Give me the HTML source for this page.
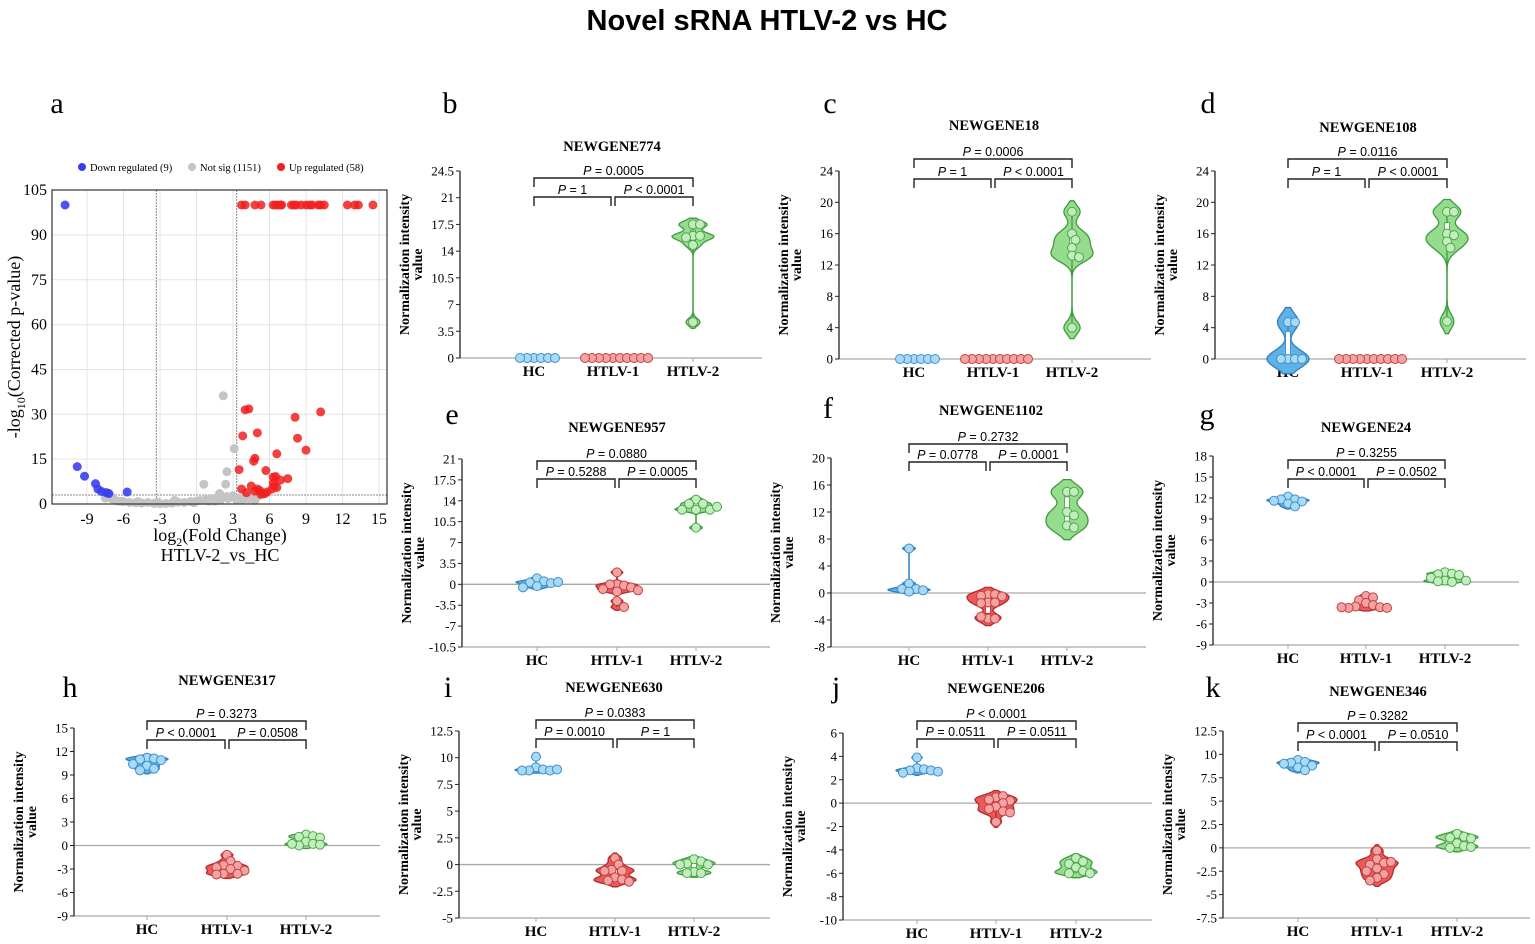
<!DOCTYPE html>
<html><head><meta charset="utf-8"><style>
html,body{margin:0;padding:0;background:#fff}
svg{display:block}
</style></head><body>
<svg id="fig" xmlns="http://www.w3.org/2000/svg" width="1535" height="944" viewBox="0 0 1535 944">
<text x="767" y="30" text-anchor="middle" font-family="Liberation Sans, sans-serif" font-weight="bold" font-size="29">Novel sRNA HTLV-2 vs HC</text>
<g id="root"></g>
</svg>
<script>
// ---------- Volcano data (panel a) ----------
const upX=[3.7,4.0,4.8,5.3,6.3,6.5,6.7,6.9,7.0,7.8,8.0,8.2,8.6,9.0,9.3,9.5,10.0,10.2,10.5,12.4,13.0,13.3,14.5,4.0,4.3,10.2,8.1,3.8,5.0,8.3,9.0,4.8,4.7,6.6,3.5,5.7,6.3,6.5,6.9,7.5,3.7,4.5,4.1,5.0,5.2,5.5,5.8,6.2,6.4,6.6,5.3,5.6,4.8,6.3];
const upY=[100,100,100,100,100,100,100,100,100,100,100,100,100,100,100,100,100,100,100,100,100,100,100,31.5,31.8,30.8,29,22.8,23.8,22,18,15.3,14.3,16.8,11.5,11.2,9,9.2,8,8.5,5,6,3.8,5,4.5,3.5,4,5,6,5.5,3.2,3.5,4.3,7];
const downX=[-10.8,-9.8,-9.2,-8.3,-8.1,-7.8,-7.4,-7.2,-5.7];
const downY=[100,12.5,9.3,6.8,5,4.2,3.8,3.5,4];
const nsX=[2.2,3.1,2.5,0.6,2.4,1.9,2.9,-7.5,-7.2,-7,-6.8,-6.5,-6.2,-6,-5.5,-5,-4.5,-4,-3.5,-3,-2.5,-2,-1.5,-1,-0.5,0,0.3,0.8,1.2,1.6,2,2.5,3,3.5,4,4.5,5,-6.9,1,1.5,2,2.6,3.3,-1.8,-0.2,3.8,4.3,4.8,-4.8,-3.2];
const nsY=[36.2,18.5,10.8,6.6,6.6,3.5,2.5,2,2.6,1.8,1.5,1,0.9,0.8,0.5,0.4,0.3,0.5,0.2,0.1,0.2,0.3,0.6,0.5,0.8,1,1.2,1.5,1.8,2,2.2,2.5,2.8,2,2.2,2.4,2.5,2.2,1,1,1.5,1.8,1.4,1.2,0.4,1.5,1.7,1.2,0.8,0.6];
const vxTicks=[-9,-6,-3,0,3,6,9,12,15];
const vyTicks=[0,15,30,45,60,75,90,105];

// ---------- Violin panel data ----------
const catNames=["HC","HTLV-1","HTLV-2"];
const bHC=[0,0,0,0,0,0], bH1=[0,0,0,0,0,0,0,0,0,0], bH2=[17.5,17.5,16,16,15.8,14.8,4.7];
const cHC=[0,0,0,0,0,0], cH1=[0,0,0,0,0,0,0,0,0,0], cH2=[18.8,16,15.2,14.2,13.2,13,4];
const dHC=[4.7,4.7,0,0,0,0], dH1=[0,0,0,0,0,0,0,0,0,0], dH2=[18.8,18.8,16,15.8,15,14.2,4.8];
const eHC=[1,0.5,0.3,0.2,-0.3,-0.5,0.4], eH1=[2,0,-0.2,0,-0.5,-0.8,-1,-1.2,-2.8,-3.8], eH2=[14.2,13.5,13.5,12.5,12.5,12.5,13,9.5];
const fHC=[6.6,1.4,0.6,0.6,0.2,0.4], fH1=[-0.2,-0.2,-0.4,-0.5,-1.4,-1.4,-1.5,-3.8,-3.8,-3.5], fH2=[15,15,12,11.5,10,9.7];
const gHC=[12.2,11.8,11.8,11.5,11.2,10.8,11.6], gH1=[-2,-2.2,-2.6,-3,-3.3,-3.5,-3.6,-3.7,-3.7,-3.6], gH2=[1.4,1.2,1.1,1,0.6,0.2,0,0.1,0.2];
const hHC=[11.2,11.1,11,10.9,10.4,10.2,9.8,9.6], hH1=[-1.2,-2,-2.5,-2.6,-2.8,-3,-3.2,-3.6,-3.6,-3.7], hH2=[1.4,1.2,1.1,1.0,0.5,0.2,0,0.1,0.2];
const iHC=[10.1,9.1,8.9,8.8,8.8,8.8,8.9], iH1=[0.6,0,-0.5,-0.6,-0.6,-1.2,-1.4,-1.5,-1.6], iH2=[0.5,0.3,0.1,0,-0.7,-0.8,-0.8,0];
const jHC=[3.9,3,2.9,2.8,2.8,2.6,2.7], jH1=[0.5,0.6,0.3,0.2,0,-0.3,-0.5,-0.7,-0.8,-1.6], jH2=[-4.7,-5,-5.2,-5.5,-5.8,-6,-6];
const kHC=[9.4,9.2,9.1,8.8,8.6,8.3,9], kH1=[-0.3,-1.2,-1.6,-1.8,-2.2,-2.8,-3.2,-3.5,-1.5,-2.5], kH2=[1.5,1.2,1.1,1,0.5,0.2,0,0.1];
const bTicks=[0,3.5,7,10.5,14,17.5,21,24.5];
const cTicks=[0,4,8,12,16,20,24];
const dTicks=[0,4,8,12,16,20,24];
const eTicks=[-10.5,-7,-3.5,0,3.5,7,10.5,14,17.5,21];
const fTicks=[-8,-4,0,4,8,12,16,20];
const gTicks=[-9,-6,-3,0,3,6,9,12,15,18];
const hTicks=[-9,-6,-3,0,3,6,9,12,15];
const iTicks=[-5,-2.5,0,2.5,5,7.5,10,12.5];
const jTicks=[-10,-8,-6,-4,-2,0,2,4,6];
const kTicks=[-7.5,-5,-2.5,0,2.5,5,7.5,10,12.5];
const genes=["NEWGENE774","NEWGENE18","NEWGENE108","NEWGENE957","NEWGENE1102","NEWGENE24","NEWGENE317","NEWGENE630","NEWGENE206","NEWGENE346"];
const pTop=["0.0005","0.0006","0.0116","0.0880","0.2732","0.3255","0.3273","0.0383","< 0.0001","0.3282"];
const pLeft=["1","1","1","0.5288","0.0778","< 0.0001","< 0.0001","0.0010","0.0511","< 0.0001"];
const pRight=["< 0.0001","< 0.0001","< 0.0001","0.0005","0.0001","0.0502","0.0508","1","0.0511","0.0510"];

const NS="http://www.w3.org/2000/svg";
const root=document.getElementById('root');
function mk(tag,attrs,parent,text){const e=document.createElementNS(NS,tag);for(const k in attrs)e.setAttribute(k,attrs[k]);if(text!==undefined)e.textContent=text;(parent||root).appendChild(e);return e;}
const SERIF="Liberation Serif, serif", SANS="Liberation Sans, sans-serif";

// ---------- Panel a: volcano ----------
(function(){
  const g=mk('g',{});
  
  
  const L=52,R=387,T=190,B=504;
  const X=v=>196.5+v*12.17, Y=v=>B-v*2.99;
  let t=mk('text',{x:57,y:113,'font-family':SERIF,'font-size':30,'text-anchor':'middle'},g,'a');
  
  vxTicks.forEach(v=>{mk('line',{x1:X(v),x2:X(v),y1:T,y2:B,stroke:'#e4e4e4','stroke-width':1},g);});
  vyTicks.forEach(v=>{mk('line',{x1:L,x2:R,y1:Y(v),y2:Y(v),stroke:'#e4e4e4','stroke-width':1},g);});
  mk('line',{x1:X(-3.3),x2:X(-3.3),y1:T,y2:B,stroke:'#888','stroke-width':1,'stroke-dasharray':'2,1'},g);
  mk('line',{x1:X(3.3),x2:X(3.3),y1:T,y2:B,stroke:'#888','stroke-width':1,'stroke-dasharray':'2,1'},g);
  mk('line',{x1:L,x2:R,y1:Y(3),y2:Y(3),stroke:'#888','stroke-width':1,'stroke-dasharray':'2,1'},g);
  nsX.forEach((v,i)=>{const c=mk('circle',{cx:X(v),cy:Y(nsY[i]),r:4.5,fill:'#c4c4c4'},g);});
  downX.forEach((v,i)=>{const c=mk('circle',{cx:X(v),cy:Y(downY[i]),r:4.5,fill:'#3a3ff0','fill-opacity':0.9},g);});
  upX.forEach((v,i)=>{const c=mk('circle',{cx:X(v),cy:Y(upY[i]),r:4.5,fill:'#f02020','fill-opacity':0.85},g);});
  mk('rect',{x:L,y:T,width:R-L,height:B-T,fill:'none',stroke:'#333','stroke-width':1.2},g);
  vxTicks.forEach(v=>{const e=mk('text',{x:X(v),y:B+20,'font-family':SERIF,'font-size':16,'text-anchor':'middle'},g,String(v));});
  vyTicks.forEach(v=>{const e=mk('text',{x:L-5,y:Y(v)+5,'font-family':SERIF,'font-size':16,'text-anchor':'end'},g,String(v));});
  const yt=mk('text',{transform:'translate(20,347) rotate(-90)','font-family':SERIF,'font-size':18,'text-anchor':'middle'},g);
  
  yt.innerHTML='-log<tspan font-size="12" dy="5">10</tspan><tspan dy="-5">(Corrected p-value)</tspan>';
  const xt=mk('text',{x:220,y:541,'font-family':SERIF,'font-size':18,'text-anchor':'middle'},g);
  
  xt.innerHTML='log<tspan font-size="12" dy="5">2</tspan><tspan dy="-5">(Fold Change)</tspan>';
  const xs=mk('text',{x:220,y:561,'font-family':SERIF,'font-size':18,'text-anchor':'middle'},g,'HTLV-2_vs_HC');
  
  const leg=[[82,'#3a3ff0','Down regulated (9)'],[192,'#c4c4c4','Not sig (1151)'],[281,'#f02020','Up regulated (58)']];
  leg.forEach(l=>{
    const lg=mk('g',{},g);
    mk('circle',{cx:l[0],cy:167,r:4,fill:l[1]},lg);
    mk('text',{x:l[0]+8,y:171,'font-family':SERIF,'font-size':10.5},lg,l[2]);
  });
})();

// ---------- Violin panels ----------
const panelData=[[bHC,bH1,bH2],[cHC,cH1,cH2],[dHC,dH1,dH2],[eHC,eH1,eH2],[fHC,fH1,fH2],[gHC,gH1,gH2],[hHC,hH1,hH2],[iHC,iH1,iH2],[jHC,jH1,jH2],[kHC,kH1,kH2]];
const panelTicks=[bTicks,cTicks,dTicks,eTicks,fTicks,gTicks,hTicks,iTicks,jTicks,kTicks];
const layout=[
 {L:'b',ax:460,yt:171,yb:358,cx:[534,613,693],ex:762,tx:612,ty:151,b1:178,b2:197,lx:450,ly:113},
 {L:'c',ax:839,yt:171,yb:359,cx:[914,993,1072],ex:1151,tx:994,ty:130,b1:159,b2:179,lx:830,ly:113},
 {L:'d',ax:1215,yt:171,yb:359,cx:[1288,1367,1447],ex:1526,tx:1368,ty:132,b1:159,b2:179,lx:1208,ly:113},
 {L:'e',ax:462,yt:459,yb:647,cx:[537,617,696],ex:770,tx:617,ty:432,b1:461,b2:479,lx:452,ly:424},
 {L:'f',ax:831,yt:458,yb:647,cx:[909,988,1067],ex:1146,tx:991,ty:415,b1:444,b2:462,lx:828,ly:418},
 {L:'g',ax:1213,yt:456,yb:645,cx:[1288,1366,1445],ex:1519,tx:1366,ty:432,b1:460,b2:479,lx:1207,ly:424},
 {L:'h',ax:74,yt:728,yb:916,cx:[147,227,306],ex:380,tx:227,ty:685,b1:721,b2:740,lx:70,ly:697},
 {L:'i',ax:459,yt:731,yb:918,cx:[536,615,694],ex:770,tx:614,ty:692,b1:720,b2:739,lx:448,ly:697},
 {L:'j',ax:843,yt:733,yb:920,cx:[917,996,1076],ex:1152,tx:996,ty:693,b1:721,b2:739,lx:836,ly:697},
 {L:'k',ax:1223,yt:731,yb:918,cx:[1298,1377,1457],ex:1530,tx:1378,ty:696,b1:723,b2:742,lx:1213,ly:697}
];
const fills=['#5fb2e6','#ea5a5a','#96dc8f'], strokes=['#2f7fc0','#b52a2a','#3f9a3f'], dotF=['#a8d9f5','#f4a3a3','#c2eebd'], dotS=['#3f8fcc','#c44040','#4fa84f'];

function quant(s,q){const p=(s.length-1)*q,i=Math.floor(p);return s[i]+(s[Math.min(i+1,s.length-1)]-s[i])*(p-i);}

panelData.forEach((groups,pi)=>{
  const Lo=layout[pi], ticks=panelTicks[pi];
  const vmin=ticks[0], vmax=ticks[ticks.length-1];
  const Y=v=>Lo.yb-(v-vmin)/(vmax-vmin)*(Lo.yb-Lo.yt);
  const g=mk('g',{});
  
  
  let e=mk('text',{x:Lo.lx,y:Lo.ly,'font-family':SERIF,'font-size':30,'text-anchor':'middle'},g,Lo.L);
  
  e=mk('text',{x:Lo.tx,y:Lo.ty,'font-family':SERIF,'font-size':14.5,'font-weight':'bold','text-anchor':'middle'},g,genes[pi]);
  
  mk('line',{x1:Lo.ax,x2:Lo.ex,y1:Y(0),y2:Y(0),stroke:'#a8a8a8','stroke-width':1.3},g);
  if(vmin<0) mk('line',{x1:Lo.ax,x2:Lo.ex,y1:Lo.yb,y2:Lo.yb,stroke:'#a8a8a8','stroke-width':1.3},g);
  Lo.cx.forEach(x=>mk('line',{x1:x,x2:x,y1:Lo.yb,y2:Lo.yb+4,stroke:'#a8a8a8','stroke-width':1},g));
  mk('line',{x1:Lo.ax,x2:Lo.ax,y1:Lo.yt,y2:Lo.yb,stroke:'#222','stroke-width':1.3},g);
  ticks.forEach(v=>{
    mk('line',{x1:Lo.ax-4,x2:Lo.ax,y1:Y(v),y2:Y(v),stroke:'#222','stroke-width':1},g);
    const t=mk('text',{x:Lo.ax-6,y:Y(v)+4.5,'font-family':SERIF,'font-size':13,'text-anchor':'end'},g,String(v));
    
  });
  const yc=(Lo.yt+Lo.yb)/2;
  e=mk('text',{transform:`translate(${Lo.ax-51},${yc}) rotate(-90)`,'font-family':SERIF,'font-size':14,'font-weight':'bold','text-anchor':'middle'},g,'Normalization intensity');
  
  e=mk('text',{transform:`translate(${Lo.ax-38},${yc}) rotate(-90)`,'font-family':SERIF,'font-size':14,'font-weight':'bold','text-anchor':'middle'},g,'value');
  
  catNames.forEach((n,ci)=>{
    const t=mk('text',{x:Lo.cx[ci],y:Lo.yb+18,'font-family':SERIF,'font-size':15,'font-weight':'bold','text-anchor':'middle'},g,n);
    
  });
  const br=(x1,x2,yl,txt,name)=>{
    const bg=mk('g',{},g);
    mk('path',{d:`M${x1},${yl+9}V${yl}H${x2}V${yl+9}`,fill:'none',stroke:'#222','stroke-width':1.4},bg);
    const tt=mk('text',{x:(x1+x2)/2,y:yl-3,'font-family':SANS,'font-size':12.5,'text-anchor':'middle'},bg);
    tt.innerHTML='<tspan font-style="italic">P</tspan> '+(txt.startsWith('<')?txt.replace('<','&lt;'):'= '+txt);
  };
  br(Lo.cx[0],Lo.cx[2],Lo.b1,pTop[pi],'p-bracket-hc-htlv2');
  br(Lo.cx[0],Lo.cx[1]-2,Lo.b2,pLeft[pi],'p-bracket-hc-htlv1');
  br(Lo.cx[1]+2,Lo.cx[2],Lo.b2,pRight[pi],'p-bracket-htlv1-htlv2');
  groups.forEach((vals,ci)=>{
    const cx=Lo.cx[ci];
    const s=[...vals].sort((a,b)=>a-b);
    const n=s.length, mean=s.reduce((a,b)=>a+b,0)/n;
    const sd=Math.sqrt(s.reduce((a,b)=>a+(b-mean)*(b-mean),0)/Math.max(1,n-1));
    const vg=mk('g',{},g);
    
    
    if(sd>1e-6){
      const iqr=(quant(s,0.75)-quant(s,0.25))/1.34;
      let spread=iqr>0?Math.min(sd,iqr):sd;
      let h=Math.max(0.65*spread*Math.pow(n,-0.2),(vmax-vmin)*0.008);
      const lo=s[0]-1.7*h, hi=s[n-1]+1.7*h, N=80, dens=[];
      let mx=0;
      for(let k=0;k<=N;k++){const y=lo+(hi-lo)*k/N;let d=0;s.forEach(v=>{d+=Math.exp(-0.5*((y-v)/h)**2);});dens.push([y,d]);if(d>mx)mx=d;}
      const W=21;
      let d='M';
      dens.forEach((p,k)=>{d+=(k?'L':'')+(cx+p[1]/mx*W).toFixed(1)+','+Y(p[0]).toFixed(1);});
      for(let k=N;k>=0;k--){const p=dens[k];d+='L'+(cx-p[1]/mx*W).toFixed(1)+','+Y(p[0]).toFixed(1);}
      d+='Z';
      mk('path',{d:d,fill:fills[ci],stroke:strokes[ci],'stroke-width':1.3},vg);
      mk('line',{x1:cx,x2:cx,y1:Y(s[0]),y2:Y(s[n-1]),stroke:strokes[ci],'stroke-width':1.3},vg);
      const q1=quant(s,0.25),q3=quant(s,0.75);
      mk('rect',{x:cx-2.5,y:Y(q3),width:5,height:Math.max(1,Y(q1)-Y(q3)),fill:'#fff',stroke:strokes[ci],'stroke-width':0.8},vg);
    }
    const placed=[], r=4.5, dmin=7, step=3.5;
    vals.forEach(v=>{
      const py=Y(v);let off=0;
      for(let k=0;k<60;k++){
        const o=(k%2?1:-1)*Math.ceil(k/2)*step;
        if(placed.every(p=>(p[0]-o)**2+(p[1]-py)**2>=dmin*dmin)){off=o;break;}
      }
      placed.push([off,py]);
      const c=mk('circle',{cx:cx+off,cy:py,r:r,fill:dotF[ci],stroke:dotS[ci],'stroke-width':1},vg);
      
      
    });
  });
});
</script>
</body></html>
